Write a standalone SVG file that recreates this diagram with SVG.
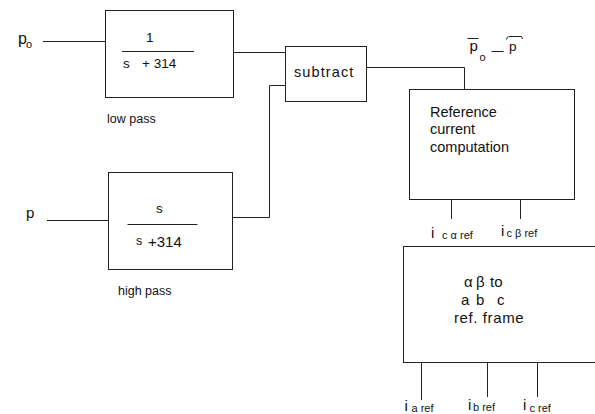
<svg xmlns="http://www.w3.org/2000/svg" width="595" height="414" viewBox="0 0 595 414">
<style>
.box{fill:#fff;stroke:#222;stroke-width:1}
.ln{fill:none;stroke:#222;stroke-width:1}
text{font-family:"Liberation Sans",Arial,sans-serif;fill:#111}
.t15{font-size:15px}
.t14{font-size:14.5px}
.t13{font-size:13.5px}
.t12{font-size:12.5px}
.t11{font-size:11px}
</style>
<rect width="595" height="414" fill="#fff"/>
<g id="connectors">
<path class="ln" d="M43 41.5H105.5"/>
<path class="ln" d="M47 220.5H108.5"/>
<path class="ln" d="M233.5 52.5H285.5"/>
<path class="ln" d="M232.5 217.5H269.5V85.5H285.5"/>
<path class="ln" d="M366.5 67.5H464.5V89.5"/>
<path class="ln" d="M451.5 199.5V219"/>
<path class="ln" d="M520.5 199.5V219"/>
<path class="ln" d="M421.5 362.5V400"/>
<path class="ln" d="M487.5 362.5V397"/>
<path class="ln" d="M537.5 362.5V397"/>
</g>
<g id="input-po">
<text x="18" y="44" font-size="16">p</text>
<text class="t11" x="26" y="48">o</text>
</g>
<g id="input-p">
<text class="t15" x="26" y="218">p</text>
</g>
<g id="lowpass">
<rect class="box" x="105.5" y="10.5" width="128" height="87"/>
<text class="t13" x="146" y="41.5">1</text>
<path class="ln" d="M122 51.5H194"/>
<text class="t13" x="123" y="68">s</text>
<text class="t13" x="142" y="68">+ 314</text>
<text class="t12" x="107" y="123">low pass</text>
</g>
<g id="highpass">
<rect class="box" x="108.5" y="172.5" width="124" height="97"/>
<text class="t13" x="156" y="212.5">s</text>
<path class="ln" d="M127.5 224.5H197.5"/>
<text class="t12" x="136" y="245">s</text>
<text class="t15" x="148" y="246.5">+314</text>
<text class="t12" x="118" y="295">high pass</text>
</g>
<g id="subtract">
<rect class="box" x="285.5" y="46.5" width="81" height="55"/>
<text class="t14" x="294" y="76.5" style="letter-spacing:1.1px">subtract</text>
</g>
<g id="diff-label">
<path class="ln" d="M467.5 38.5H478.5"/>
<text class="t15" x="469.5" y="50.5">p</text>
<text class="t11" x="479.5" y="61">o</text>
<path class="ln" d="M491.5 51.5H503.5"/>
<text class="t13" x="509" y="50.5">p</text>
<path class="ln" d="M506.5 39.5C507 37 508 36.5 510 36.5H521.5L522.5 39"/>
</g>
<g id="refcalc">
<rect class="box" x="409.5" y="89.5" width="165" height="110"/>
<text class="t14" x="430" y="116.5">Reference</text>
<text class="t14" x="430" y="134">current</text>
<text class="t14" x="430" y="151.5">computation</text>
</g>
<g id="ref-outputs">
<text class="t15" x="431" y="238">i</text>
<text class="t11" x="442" y="239">c α ref</text>
<text class="t15" x="501" y="236">i</text>
<text class="t11" x="506.5" y="236.5">c β ref</text>
</g>
<g id="abc">
<rect class="box" x="403.5" y="246.5" width="200" height="116"/>
<text class="t15" x="464" y="287">α <tspan x="476">β</tspan><tspan x="490">to</tspan></text>
<text class="t15" x="461" y="305">a<tspan x="476">b</tspan><tspan x="497">c</tspan></text>
<text class="t15" x="454" y="323" style="letter-spacing:0.6px">ref. frame</text>
</g>
<g id="abc-outputs">
<text class="t15" x="404.5" y="411">i</text>
<text class="t11" x="411.5" y="411.5">a ref</text>
<text class="t15" x="468" y="410">i</text>
<text class="t11" x="473" y="410.5">b ref</text>
<text class="t15" x="523" y="410">i</text>
<text class="t11" x="529.5" y="411.5">c ref</text>
</g>
</svg>
